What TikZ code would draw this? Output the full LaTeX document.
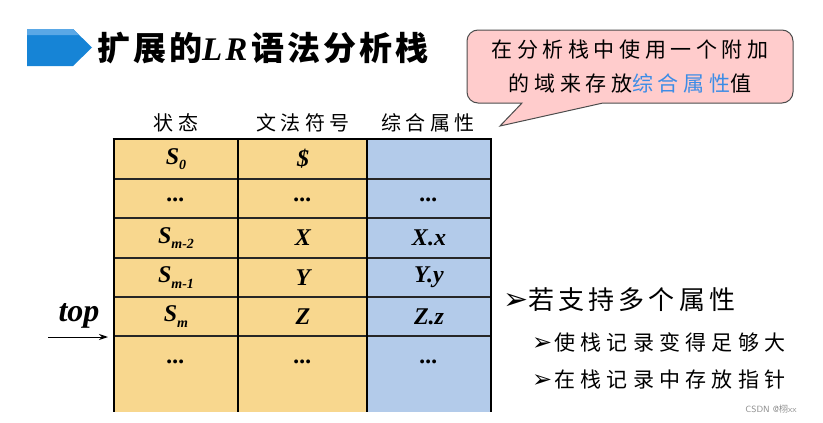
\documentclass[tikz,border=0pt]{standalone}
\usepackage{fontspec}
\usetikzlibrary{arrows.meta}
\setmainfont{Liberation Serif}
\newfontfamily\cjk{Noto Sans CJK SC}
\newfontfamily\cjksp[LetterSpace=22]{Noto Sans CJK SC}
\newfontfamily\dv{DejaVu Sans}
\definecolor{cellyellow}{HTML}{F8D78E}
\definecolor{cellblue}{HTML}{B3CBEA}
\definecolor{calloutpink}{HTML}{FFCCCC}
\definecolor{attrblue}{HTML}{3C8CE6}
\definecolor{titleblue}{HTML}{1684D6}
\definecolor{titlelight}{HTML}{5AA8E6}
\tikzset{
  cell/.style={inner sep=0pt, font=\fontsize{24}{24}\selectfont\bfseries\itshape},
  head/.style={inner sep=0pt, font=\fontsize{20}{20}\selectfont\cjksp},
  thickline/.style={line width=2.6pt, black},
  rowline/.style={line width=1.3pt, black!85},
  bullet1/.style={anchor=west, inner sep=0pt, font=\fontsize{26}{26}\selectfont},
  bullet2/.style={anchor=west, inner sep=0pt, font=\fontsize{21}{21}\selectfont},
}
\newcommand{\subs}[1]{\raisebox{-0.5ex}{\fontsize{14}{14}\selectfont #1}}
\begin{document}
\begin{tikzpicture}[x=1pt,y=-1pt]
\useasboundingbox (0,0) rectangle (823,423);
% title arrow
\fill[titleblue] (27,29) -- (73,29) -- (92,47.5) -- (73,66) -- (27,66) -- cycle;
\fill[titlelight] (27,29) -- (73,29) -- (79,35) -- (27,35) -- cycle;
\node[anchor=west, inner sep=0pt] (title) at (97,48)
  {\fontsize{33}{33}\selectfont\cjk\bfseries\addfontfeature{LetterSpace=9}扩展的{\rmfamily\bfseries\itshape L\kern3pt R}\kern4pt 语法分析栈};
% callout
\draw[fill=calloutpink, draw=black!70, line width=1pt]
  (500,126) -- (603,103) [rounded corners=11] -- (793,103) -- (793,30) -- (467,30) -- (467,103) [sharp corners] -- (522,103) -- cycle;
\node[inner sep=0pt, font=\fontsize{21}{21}\selectfont\cjksp] (c1) at (630,50) {在分析栈中使用一个附加};
\node[inner sep=0pt, font=\fontsize{21}{21}\selectfont\cjksp] (c2) at (630,83) {的域来存放\textcolor{attrblue}{综合属性}值};
% table headers
\node[head] (h1) at (176,123) {状态};
\node[head] (h2) at (303,123) {文法符号};
\node[head] (h3) at (428,123) {综合属性};
% table fills
\fill[cellyellow] (114,139) rectangle (367,412);
\fill[cellblue] (367,139) rectangle (491,412);
% row lines
\foreach \yy in {179,218,258,297,336}
  \draw[rowline] (114,\yy) -- (491,\yy);
\draw[thickline] (112.7,139) -- (492.3,139);
\foreach \xx in {114,238,367,491}
  \draw[thickline] (\xx,139) -- (\xx,412);
% cells
\node[cell] (s0) at (176,159) {S\subs{0}};
\node[cell] (g0) at (303,159) {\$};
\node[cell] (s1) at (176,199.5) {...};
\node[cell] (g1) at (303,199.5) {...};
\node[cell] (a1) at (429,199.5) {...};
\node[cell] (s2) at (176,238) {S\subs{m-2}};
\node[cell] (g2) at (303,238) {X};
\node[cell] (a2) at (429,238) {X.x};
\node[cell] (s3) at (176,277.5) {S\subs{m-1}};
\node[cell] (g3) at (303,277.5) {Y};
\node[cell] (a3) at (429,277.5) {Y.y};
\node[cell] (s4) at (176,316.5) {S\subs{m}};
\node[cell] (g4) at (303,316.5) {Z};
\node[cell] (a4) at (429,316.5) {Z.z};
\node[cell] (s5) at (176,362) {...};
\node[cell] (g5) at (303,362) {...};
\node[cell] (a5) at (429,362) {...};
% top pointer
\node[inner sep=0pt, font=\fontsize{32}{32}\selectfont\bfseries\itshape] (toplbl) at (79,316) {top};
\coordinate (tops) at (48,337);
\coordinate (tope) at (108,337);
\draw[-{Stealth[length=9pt,width=6pt]}, line width=1pt] (tops) -- (tope);
% bullets
\node[bullet1] (b1) at (503,300) {{\dv\fontsize{30}{30}\selectfont ➢}{\cjk\addfontfeature{LetterSpace=16}若支持多个属性}};
\node[bullet2] (b2) at (532,342) {{\dv\fontsize{24}{24}\selectfont ➢}\kern2pt{\cjk\addfontfeature{LetterSpace=25}使栈记录变得足够大}};
\node[bullet2] (b3) at (532,380) {{\dv\fontsize{24}{24}\selectfont ➢}\kern2pt{\cjk\addfontfeature{LetterSpace=25}在栈记录中存放指针}};
% watermark
\node[inner sep=0pt, text=black!45, font=\fontsize{9}{9}\selectfont\sffamily] (wm) at (771,409) {CSDN @{\cjk 栩}xx};
\end{tikzpicture}
\end{document}
